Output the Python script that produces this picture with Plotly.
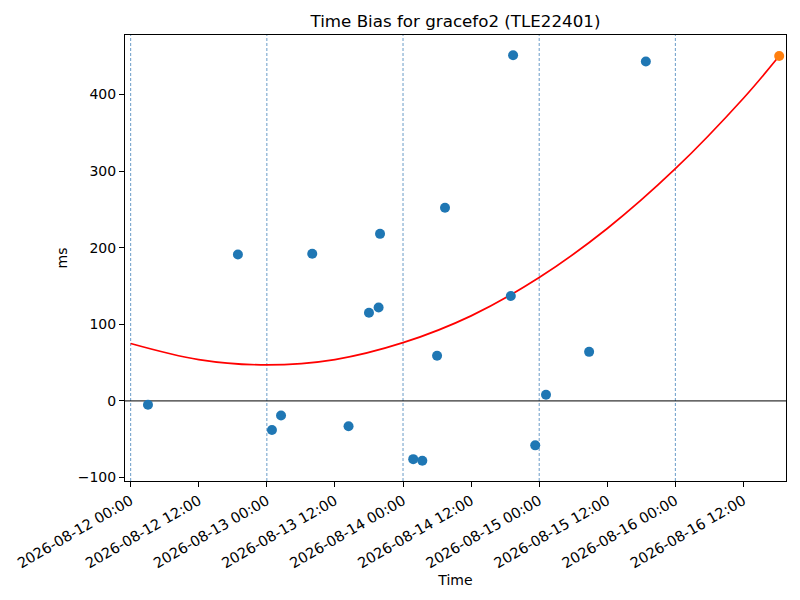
import plotly.graph_objects as go

# Observed time-bias samples
obs_times = [
    "2026-08-12 03:03", "2026-08-12 18:54", "2026-08-13 00:54", "2026-08-13 02:30",
    "2026-08-13 08:00", "2026-08-13 14:24", "2026-08-13 18:00", "2026-08-13 19:42",
    "2026-08-13 19:57", "2026-08-14 01:48", "2026-08-14 03:24", "2026-08-14 06:00",
    "2026-08-14 07:24", "2026-08-14 19:00", "2026-08-14 19:24", "2026-08-14 23:18",
    "2026-08-15 01:12", "2026-08-15 08:48", "2026-08-15 18:48",
]
obs_ms = [-5, 191, -38, -19, 192, -33, 115, 122, 218, -76, -78, 59, 252, 137, 451, -58, 8, 64, 443]

# Fitted curve
fit_times = [
    "2026-08-12 00:00", "2026-08-12 12:00", "2026-08-13 00:00", "2026-08-13 12:00",
    "2026-08-14 00:00", "2026-08-14 12:00", "2026-08-15 00:00", "2026-08-15 12:00",
    "2026-08-16 00:00", "2026-08-16 12:00", "2026-08-16 18:18",
]
fit_ms = [75, 54, 47, 54, 76, 111, 161, 225, 303, 395, 450]

# Predicted point
pred_time = ["2026-08-16 18:18"]
pred_ms = [450]

# Day separators
day_marks = ["2026-08-12 00:00", "2026-08-13 00:00", "2026-08-14 00:00",
             "2026-08-15 00:00", "2026-08-16 00:00"]

x_range = ["2026-08-11 23:00", "2026-08-16 19:30"]
y_range = [-104.5, 477.5]
y_ticks = [-100, 0, 100, 200, 300, 400]
y_tick_text = ["\u2212100", "0", "100", "200", "300", "400"]

FONT = "DejaVu Sans"

fig = go.Figure()
fig.add_trace(go.Scatter(x=fit_times, y=fit_ms, mode="lines",
                         line=dict(color="red", width=1.7, shape="spline", smoothing=1.0),
                         showlegend=False, hoverinfo="skip"))
fig.add_trace(go.Scatter(x=obs_times, y=obs_ms, mode="markers",
                         marker=dict(color="#1f77b4", size=10, line=dict(width=0)),
                         showlegend=False))
fig.add_trace(go.Scatter(x=pred_time, y=pred_ms, mode="markers",
                         marker=dict(color="#ff7f0e", size=10, line=dict(width=0)),
                         showlegend=False))

for d in day_marks:
    fig.add_shape(type="line", xref="x", yref="paper", x0=d, x1=d, y0=0, y1=1,
                  line=dict(color="#6a9cc8", width=1, dash="3px,2px"), layer="below")

fig.add_shape(type="line", xref="paper", yref="y", x0=0, x1=1, y0=0, y1=0,
              line=dict(color="black", width=1), layer="below")

fig.update_layout(
    width=800, height=600,
    margin=dict(l=117, r=22, t=27, b=127, autoexpand=False),
    paper_bgcolor="white", plot_bgcolor="white",
    font=dict(family=FONT, size=14, color="black"),
    title=dict(text="Time Bias for gracefo2 (TLE22401)", x=0.5, xref="paper",
               y=1 - 13 / 600, yref="container", yanchor="middle", xanchor="center",
               font=dict(family=FONT, size=16.7, color="black")),
    showlegend=False,
)
fig.update_xaxes(
    range=x_range, type="date", dtick=12 * 3600 * 1000, tick0="2026-08-12 00:00",
    tickformat="%Y-%m-%d %H:%M", tickangle=-30, tickfont=dict(size=14.5),
    showgrid=False, zeroline=False, automargin=False,
    showline=True, linecolor="black", linewidth=1, mirror=True,
    ticks="outside", ticklen=5, tickcolor="black", tickwidth=1,
    title=dict(text="Time", font=dict(family=FONT, size=14), standoff=4),
)
fig.update_yaxes(
    range=y_range, tickvals=y_ticks, ticktext=y_tick_text, tickfont=dict(size=14),
    showgrid=False, zeroline=False, automargin=False,
    showline=True, linecolor="black", linewidth=1, mirror=True,
    ticks="outside", ticklen=5, tickcolor="black", tickwidth=1,
    title=dict(text="ms", font=dict(family=FONT, size=14), standoff=6),
)

fig.write_html("out.html")
